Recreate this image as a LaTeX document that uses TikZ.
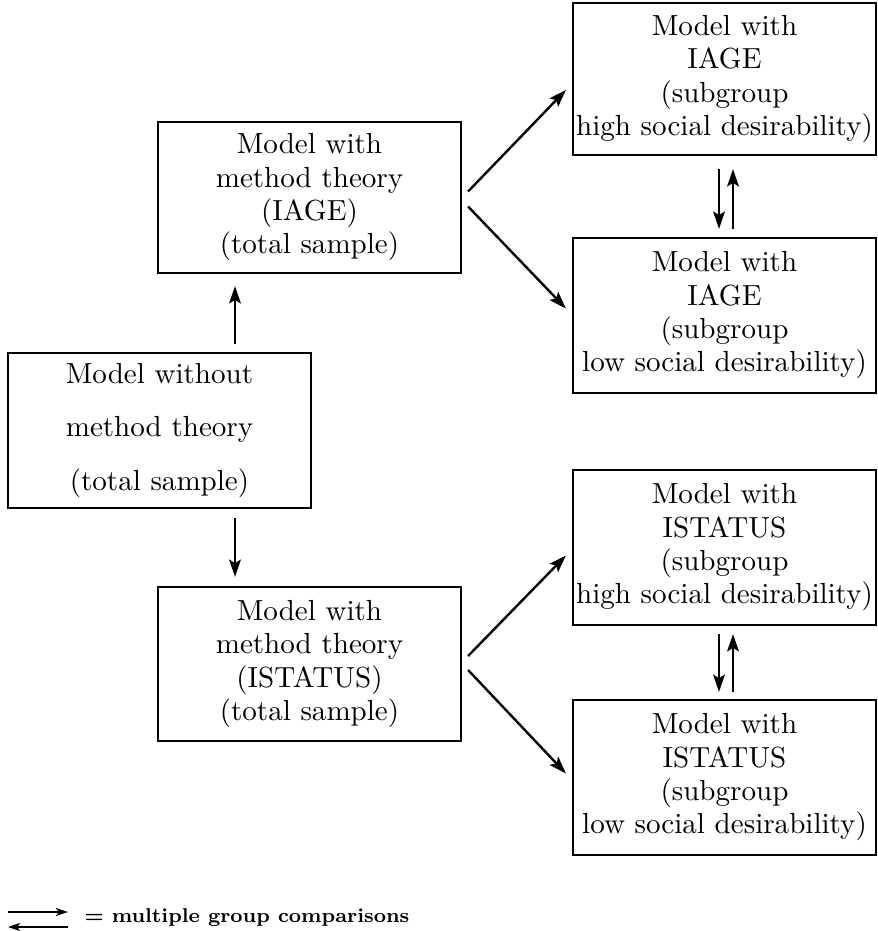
\documentclass[tikz,border=0pt]{standalone}
\usetikzlibrary{arrows.meta,calc}
\begin{document}
\begin{tikzpicture}[x=0.375pt,y=-0.375pt,
  box/.style={draw,line width=0.8pt,align=center,inner sep=0pt,
    minimum width=303*0.375pt,font=\fontsize{10.9}{12.5}\selectfont},
  arr/.style={line width=0.9pt,-{Stealth[length=6.5pt,width=4.4pt,inset=1.3pt]}},
  legarr/.style={line width=0.7pt,-{Stealth[length=4.5pt,width=3pt,inset=1pt]}}]
\useasboundingbox (0,0) rectangle (877,931);

% base model
\node[box,minimum height=155*0.375pt] (A) at (159.5,430.5)
  {Model without\\[7.5pt] method theory\\[7.5pt] (total sample)};

% models with method theory (total sample)
\node[box,minimum height=151*0.375pt] (B) at (309.5,197.5)
  {Model with\\ method theory\\ (IAGE)\\ (total sample)};
\node[box,minimum height=154*0.375pt] (C) at (309.5,664)
  {Model with\\ method theory\\ (ISTATUS)\\ (total sample)};

% subgroup models
\node[box,minimum height=152*0.375pt] (D) at (724.5,79)
  {Model with\\ IAGE\\ (subgroup\\ high social desirability)};
\node[box,minimum height=155*0.375pt] (E) at (724.5,315.5)
  {Model with\\ IAGE\\ (subgroup\\ low social desirability)};
\node[box,minimum height=155*0.375pt] (F) at (724.5,547.5)
  {Model with\\ ISTATUS\\ (subgroup\\ high social desirability)};
\node[box,minimum height=155*0.375pt] (G) at (724.5,777.5)
  {Model with\\ ISTATUS\\ (subgroup\\ low social desirability)};

% from the base model
\draw[arr] ($(A.north)+(75.5,-8)$) -- ($(B.south)+(-74.5,12)$);
\draw[arr] ($(A.south)+(75.5,9)$) -- ($(C.north)+(-74.5,-9)$);

% to the subgroup models
\draw[arr] ($(B.east)+(6,-6)$) -- ($(D.west)+(-6,11)$);
\draw[arr] ($(B.east)+(6,9)$) -- ($(E.west)+(-6,-7)$);
\draw[arr] ($(C.east)+(6,-8)$) -- ($(F.west)+(-6,8)$);
\draw[arr] ($(C.east)+(6,6)$) -- ($(G.west)+(-6,-4)$);

% multiple group comparisons
\draw[arr] ($(D.south)+(-5.5,13)$) -- ($(E.north)+(-5.5,-8)$);
\draw[arr] ($(E.north)+(8.5,-8)$) -- ($(D.south)+(8.5,13)$);
\draw[arr] ($(F.south)+(-5.5,8)$) -- ($(G.north)+(-5.5,-7)$);
\draw[arr] ($(G.north)+(8.5,-7)$) -- ($(F.south)+(8.5,8)$);

% legend
\coordinate (la) at (8,912);
\coordinate (lb) at (68,912);
\coordinate (lc) at (68,927);
\coordinate (ld) at (8,927);
\draw[legarr] (la) -- (lb);
\draw[legarr] (lc) -- (ld);
\node[anchor=west,inner sep=0pt,font=\fontsize{7.5}{9}\selectfont\bfseries] (leg)
  at (84,918) {= multiple group comparisons};
\end{tikzpicture}
\end{document}
